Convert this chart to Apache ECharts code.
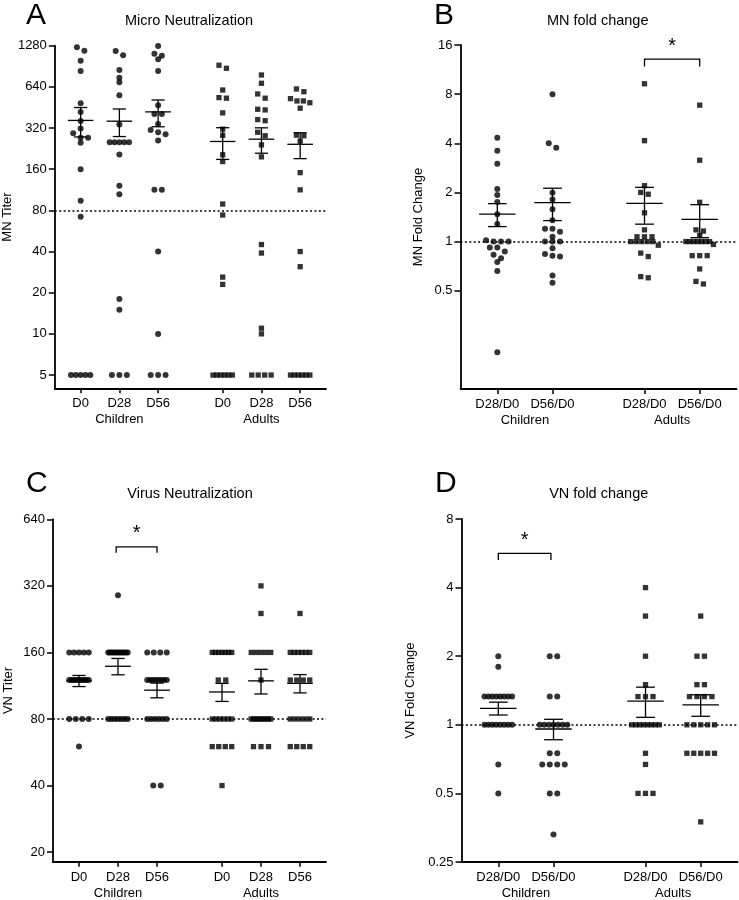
<!DOCTYPE html>
<html><head><meta charset="utf-8">
<script src="https://cdn.jsdelivr.net/npm/echarts@6/dist/echarts.min.js"></script>
<style>html,body{margin:0;padding:0;background:#fff}#c{width:739px;height:900px}</style>
</head><body><div id="c"></div>
<script>
// ---------- categories / tick labels ----------
const groupsTiter = ['D0', 'D28', 'D56', 'D0', 'D28', 'D56'];
const groupsFold = ['D28/D0', 'D56/D0', 'D28/D0', 'D56/D0'];
const cohortLabels = ['Children', 'Adults'];
const titerTicksMN = [5, 10, 20, 40, 80, 160, 320, 640, 1280];
const foldTicksMN = [0.5, 1, 2, 4, 8, 16];
const titerTicksVN = [20, 40, 80, 160, 320, 640];
const foldTicksVN = [0.25, 0.5, 1, 2, 4, 8];

// ---------- Panel A: MN titers ----------
const mnChildD0 = [1246, 1176, 995, 836, 485, 420, 361, 318, 293, 272, 272, 250, 160, 94, 72, 5, 5, 5, 5, 5];
const mnChildD28 = [1172, 1089, 850, 747, 691, 556, 339, 252, 252, 252, 252, 252, 205, 121, 105, 18, 15, 5, 5, 5];
const mnChildD56 = [1275, 1119, 1082, 1018, 836, 469, 406, 406, 343, 310, 298, 288, 259, 113, 113, 40, 10, 5, 5, 5];
const mnAdultD0 = [921, 875, 607, 534, 529, 413, 314, 283, 204, 182, 89, 74, 26, 23, 5, 5, 5, 5, 5, 5];
const mnAdultD28 = [782, 680, 568, 529, 439, 434, 369, 362, 298, 281, 241, 197, 45, 39, 11, 10, 5, 5, 5, 5];
const mnAdultD56 = [618, 590, 525, 505, 505, 490, 447, 284, 281, 257, 151, 113, 40, 31, 5, 5, 5, 5, 5, 5];

// ---------- Panel B: MN fold change ----------
const mnFoldChildD28 = [4.33, 3.6, 3.0, 2.1, 1.93, 1.75, 1.47, 1.28, 1.02, 1, 1, 1, 0.92, 0.92, 0.87, 0.83, 0.79, 0.75, 0.66, 0.21];
const mnFoldChildD56 = [8, 4, 3.76, 1.99, 1.81, 1.58, 1.35, 1.2, 1.2, 1.15, 1.07, 1, 1, 1, 0.91, 0.84, 0.82, 0.81, 0.62, 0.56];
const mnFoldAdultD28 = [9.26, 4.15, 2.2, 2.0, 1.95, 1.5, 1.18, 1.07, 1.07, 1.07, 1, 1, 1, 1, 1, 0.95, 0.85, 0.81, 0.61, 0.6];
const mnFoldAdultD56 = [6.85, 3.15, 1.74, 1.18, 1.16, 1.09, 1, 1, 1, 1, 1, 1, 1, 0.96, 0.82, 0.82, 0.82, 0.68, 0.57, 0.55];

// ---------- Panel C: VN titers ----------
const vnChildD0 = [160, 160, 160, 160, 160, 120, 120, 120, 120, 120, 120, 120, 120, 120, 120, 80, 80, 80, 80, 60];
const vnChildD28 = [290, 160, 160, 160, 160, 160, 160, 160, 160, 160, 160, 160, 160, 80, 80, 80, 80, 80, 80, 80];
const vnChildD56 = [160, 160, 160, 160, 120, 120, 120, 120, 120, 120, 120, 120, 80, 80, 80, 80, 80, 80, 40, 40];
const vnAdultD0 = [160, 160, 160, 160, 160, 160, 160, 120, 120, 80, 80, 80, 80, 80, 80, 60, 60, 60, 60, 40];
const vnAdultD28 = [320, 240, 160, 160, 160, 160, 160, 120, 80, 80, 80, 80, 80, 80, 80, 80, 80, 60, 60, 60];
const vnAdultD56 = [240, 160, 160, 160, 160, 160, 160, 120, 120, 120, 120, 80, 80, 80, 80, 80, 60, 60, 60, 60];

// ---------- Panel D: VN fold change ----------
const vnFoldChildD28 = [2, 1.8, 1.33, 1.33, 1.33, 1.33, 1.33, 1.33, 1.33, 1.33, 1, 1, 1, 1, 1, 1, 1, 1, 0.67, 0.5];
const vnFoldChildD56 = [2, 2, 1.33, 1.33, 1, 1, 1, 1, 1, 1, 1, 0.75, 0.75, 0.67, 0.67, 0.67, 0.67, 0.5, 0.5, 0.33];
const vnFoldAdultD28 = [4, 3, 2, 1.5, 1.33, 1.33, 1.33, 1, 1, 1, 1, 1, 1, 1, 1, 0.75, 0.67, 0.5, 0.5, 0.5];
const vnFoldAdultD56 = [3, 2, 2, 1.5, 1.5, 1.33, 1.33, 1.33, 1.33, 1, 1, 1, 1, 1, 0.75, 0.75, 0.75, 0.75, 0.75, 0.375];

// ---------- layout ----------
const FONT = '"Liberation Sans", Arial, sans-serif';
const posTiter = [2 / 3, 5 / 3, 8 / 3, 13 / 3, 16 / 3, 19 / 3];
const posFold = [2 / 3, 5 / 3, 10 / 3, 13 / 3];

const panels = [
  { letter: 'A', title: 'Micro Neutralization', letterPos: [26, 1], titlePos: [189, 13],
    grid: { left: 53, top: 45.7, width: 273, height: 342.6 }, xMax: 7, pos: posTiter, labels: groupsTiter,
    cohortPos: [5 / 3, 16 / 3], yMin: 4, yMax: 1280, ticks: titerTicksMN, yName: 'MN Titer', nameGap: 38, ref: 80,
    groups: [mnChildD0, mnChildD28, mnChildD56, mnAdultD0, mnAdultD28, mnAdultD56], bracket: null },
  { letter: 'B', title: 'MN fold change', letterPos: [434, 1], titlePos: [597.7, 13],
    grid: { left: 460.5, top: 45, width: 276, height: 344 }, xMax: 5, pos: posFold, labels: groupsFold,
    cohortPos: [7 / 6, 23 / 6], yMin: 0.125, yMax: 16, ticks: foldTicksMN, yName: 'MN Fold Change', nameGap: 36, ref: 1,
    groups: [mnFoldChildD28, mnFoldChildD56, mnFoldAdultD28, mnFoldAdultD56], bracket: [10 / 3, 13 / 3, 13.1, 11.8] },
  { letter: 'C', title: 'Virus Neutralization', letterPos: [26, 469], titlePos: [190, 486],
    grid: { left: 53, top: 519.3, width: 273, height: 342.4 }, xMax: 7, pos: posTiter, labels: groupsTiter,
    cohortPos: [5 / 3, 16 / 3], yMin: 18.1, yMax: 640, ticks: titerTicksVN, yName: 'VN Titer', nameGap: 38, ref: 80,
    groups: [vnChildD0, vnChildD28, vnChildD56, vnAdultD0, vnAdultD28, vnAdultD56], bracket: [1.62, 8 / 3, 480, 452] },
  { letter: 'D', title: 'VN fold change', letterPos: [435, 469], titlePos: [598.7, 486],
    grid: { left: 461.5, top: 519, width: 276, height: 343 }, xMax: 5, pos: posFold, labels: groupsFold,
    cohortPos: [7 / 6, 23 / 6], yMin: 0.25, yMax: 8, ticks: foldTicksVN, yName: 'VN Fold Change', nameGap: 45, ref: 1,
    groups: [vnFoldChildD28, vnFoldChildD56, vnFoldAdultD28, vnFoldAdultD56], bracket: [2 / 3, 1.62, 5.65, 5.28] }
];

// spread points that share (nearly) the same value into centered rows
function swarm(values, center, unitPx, pxPerLog2, gapPx, maxSpanPx) {
  const sorted = values.slice().sort((a, b) => b - a);
  const bins = [];
  sorted.forEach(v => {
    const b = bins[bins.length - 1];
    if (b && Math.abs(Math.log2(b[0] / v)) * pxPerLog2 < 4.5) b.push(v); else bins.push([v]);
  });
  const out = [];
  bins.forEach(b => {
    const n = b.length;
    const sp = n > 1 ? Math.min(gapPx, maxSpanPx / (n - 1)) : 0;
    b.forEach((v, i) => out.push([center + (i - (n - 1) / 2) * sp / unitPx, v]));
  });
  return out;
}
function stats(values) {
  const n = values.length;
  const m = values.reduce((a, b) => a + b, 0) / n;
  const sd = Math.sqrt(values.reduce((a, b) => a + (b - m) * (b - m), 0) / (n - 1));
  const sem = sd / Math.sqrt(n);
  return [m, m - sem, m + sem];
}

const grids = [], xAxes = [], yAxes = [], series = [], titles = [];
const black = '#000';

panels.forEach((p, k) => {
  grids.push(Object.assign({ containLabel: false }, p.grid));
  const unitPx = p.grid.width / p.xMax;
  const pxPerLog2 = p.grid.height / Math.log2(p.yMax / p.yMin);
  const lookup = (arr, pos) => v => { const i = pos.findIndex(q => Math.abs(q - v) < 1e-6); return i >= 0 ? arr[i] : ''; };
  xAxes.push({
    type: 'value', gridIndex: k, position: 'bottom', min: 0, max: p.xMax, splitLine: { show: false },
    axisLine: { show: true, onZero: false, lineStyle: { color: black, width: 1.8 } },
    axisTick: { show: true, customValues: p.pos, length: 5, lineStyle: { color: black, width: 1.5 } },
    axisLabel: { customValues: p.pos, formatter: lookup(p.labels, p.pos), margin: 9, color: black, fontSize: 13, fontFamily: FONT }
  });
  xAxes.push({
    type: 'value', gridIndex: k, position: 'bottom', offset: 0, min: 0, max: p.xMax, splitLine: { show: false },
    axisLine: { show: false, onZero: false }, axisTick: { show: false },
    axisLabel: { customValues: p.cohortPos, formatter: lookup(cohortLabels, p.cohortPos), margin: 25, color: black, fontSize: 13, fontFamily: FONT }
  });
  yAxes.push({
    type: 'log', logBase: 2, gridIndex: k, min: p.yMin, max: p.yMax, splitLine: { show: false }, minorTick: { show: false },
    axisLine: { show: true, onZero: false, lineStyle: { color: black, width: 1.8 } },
    axisTick: { show: true, customValues: p.ticks, length: 6, lineStyle: { color: black, width: 1.5 } },
    axisLabel: { customValues: p.ticks, formatter: v => String(+v.toPrecision(6)), margin: 8, color: black, fontSize: 13, fontFamily: FONT },
    name: p.yName, nameLocation: 'middle', nameGap: p.nameGap, nameRotate: 90,
    nameTextStyle: { color: black, fontSize: 13, fontFamily: FONT }
  });
  titles.push({ text: p.letter, left: p.letterPos[0], top: p.letterPos[1], padding: 0,
    textStyle: { fontSize: 30, fontWeight: 'normal', color: black, fontFamily: FONT } });
  titles.push({ text: p.title, left: p.titlePos[0], top: p.titlePos[1], textAlign: 'center', padding: 0,
    textStyle: { fontSize: 14.5, fontWeight: 'normal', color: black, fontFamily: FONT } });

  const half = p.groups.length / 2;
  p.groups.forEach((vals, g) => {
    const isChild = g < half;
    const s = {
      type: 'scatter', xAxisIndex: 2 * k, yAxisIndex: k,
      symbol: isChild ? 'circle' : 'rect', symbolSize: isChild ? 6 : 5.3,
      itemStyle: { color: black }, z: 3,
      data: swarm(vals, p.pos[g], unitPx, pxPerLog2, 7.5, unitPx * 0.5)
    };
    if (g === 0) {
      s.markLine = { silent: true, symbol: 'none', label: { show: false }, animation: false,
        lineStyle: { color: black, type: [2, 2.4], width: 1.6 }, data: [{ yAxis: p.ref }] };
    }
    series.push(s);
  });
  // mean +/- SEM
  series.push({
    type: 'custom', xAxisIndex: 2 * k, yAxisIndex: k, z: 5,
    data: p.groups.map((vals, g) => [p.pos[g]].concat(stats(vals))),
    encode: { x: 0, y: [1, 2, 3] },
    renderItem: (params, api) => {
      const x = api.value(0), m = api.value(1), lo = api.value(2), hi = api.value(3);
      const seg = (a, b) => ({ type: 'line', shape: { x1: a[0], y1: a[1], x2: b[0], y2: b[1] },
        style: { stroke: black, lineWidth: 1.3, fill: null } });
      return { type: 'group', children: [
        seg(api.coord([x - 0.33, m]), api.coord([x + 0.33, m])),
        seg(api.coord([x - 0.17, lo]), api.coord([x + 0.17, lo])),
        seg(api.coord([x - 0.17, hi]), api.coord([x + 0.17, hi])),
        seg(api.coord([x, lo]), api.coord([x, hi]))
      ] };
    }
  });
  if (p.bracket) {
    series.push({
      type: 'custom', xAxisIndex: 2 * k, yAxisIndex: k, z: 5,
      data: [p.bracket], encode: { x: [0, 1], y: [2, 3] },
      renderItem: (params, api) => {
        const x1 = api.value(0), x2 = api.value(1), yt = api.value(2), yl = api.value(3);
        const a = api.coord([x1, yl]), b = api.coord([x1, yt]), c = api.coord([x2, yt]), d = api.coord([x2, yl]);
        return { type: 'group', children: [
          { type: 'polyline', shape: { points: [a, b, c, d] }, style: { stroke: black, lineWidth: 1.3, fill: null } },
          { type: 'text', style: { text: '*', x: (b[0] + c[0]) / 2, y: b[1] - 3, fill: black,
            font: '20px ' + FONT, textAlign: 'center', textVerticalAlign: 'bottom' } }
        ] };
      }
    });
  }
});

const chart = echarts.init(document.getElementById('c'));
chart.setOption({
  animation: false, backgroundColor: '#fff',
  textStyle: { fontFamily: FONT },
  title: titles, grid: grids, xAxis: xAxes, yAxis: yAxes, series: series
});
</script></body></html>
